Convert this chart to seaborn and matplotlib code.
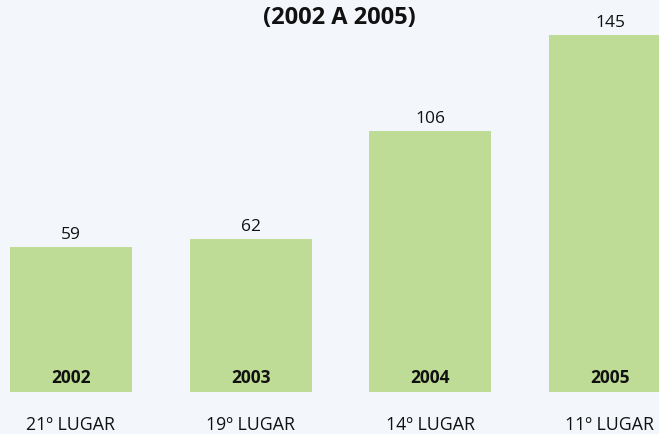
import matplotlib
matplotlib.use("Agg")
import matplotlib.pyplot as plt
import seaborn as sns
import pandas as pd

years = ["2002", "2003", "2004", "2005"]
values = [59, 62, 106, 145]
places = ["21º LUGAR", "19º LUGAR", "14º LUGAR", "11º LUGAR"]
title = "(2002 A 2005)"

BG = "#f3f6fb"
BAR = "#bfdc96"

sns.set_theme(style="white")
plt.rcParams["font.family"] = ["Open Sans", "DejaVu Sans"]

df = pd.DataFrame({"year": years, "value": values})

fig = plt.figure(figsize=(6.59, 4.34), dpi=100, facecolor=BG)
ax = fig.add_axes([0, 0, 1, 1])
ax.set_facecolor(BG)
sns.barplot(data=df, x="year", y="value", color=BAR, width=0.68, saturation=1, ax=ax)
for p in ax.patches:
    p.set_edgecolor("none")

ax.set_xlim(-0.395, 3.273)
ax.set_ylim(-17.06, 159.2)
for s in ax.spines.values():
    s.set_visible(False)
ax.set_xticks([])
ax.set_yticks([])
ax.set_xlabel("")
ax.set_ylabel("")

for i, (y, v, pl) in enumerate(zip(years, values, places)):
    ax.text(i, v + 1.6, str(v), ha="center", va="bottom", fontsize=12.5, color="#111111")
    ax.text(i, 5.8, y, ha="center", va="center", fontsize=12.5, fontweight="bold", color="#111111")
    ax.text(i, -13.3, pl, ha="center", va="center", fontsize=12.8, color="#111111")

fig.text(339 / 659, 1 - 18 / 434, title, ha="center", va="center", fontsize=17,
         fontweight="bold", color="#111111")

fig.savefig("out.png", dpi=100, facecolor=BG)
